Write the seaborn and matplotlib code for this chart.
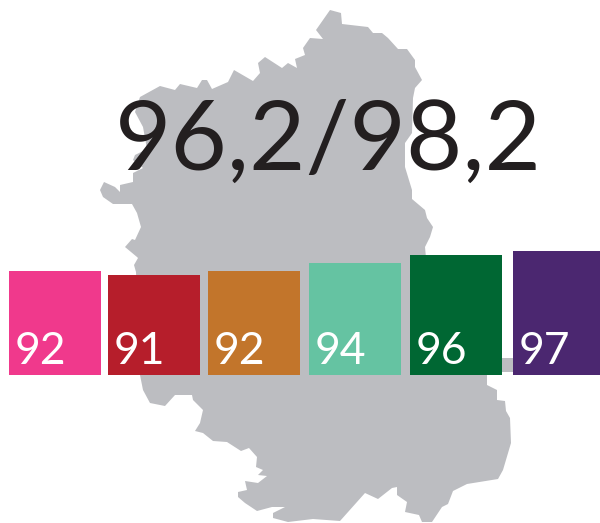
import matplotlib
matplotlib.use('Agg')
import matplotlib.pyplot as plt
import seaborn as sns
import pandas as pd

# valeurs
TITRE = "96,2/98,2"
GROUPES = ["a", "b", "c", "d", "e", "f"]
VALEURS = [92, 91, 92, 94, 96, 97]
COULEURS = ["#F0398C", "#B61E2B", "#C2752B", "#65C3A2", "#006733", "#4B2770"]

# centres des barres (pixels), l'ecart n'est pas tout a fait regulier
CENTRES = [55, 154, 254, 355, 456, 559]

# contour de la carte (pixels de l'image)
CARTE_X = [330, 341, 342, 368, 373, 382, 388, 398, 407, 415, 415, 422, 415, 413, 412, 405, 405,
           412, 412, 425, 427, 433, 430, 425, 430, 460, 501, 513, 513, 497, 487, 487, 497, 497,
           505, 506, 510, 511, 503, 498, 467, 453, 448, 442, 432, 422, 419, 405, 407, 397, 397,
           392, 378, 365, 340, 313, 288, 273, 273, 285, 272, 257, 245, 238, 238, 247, 245, 258,
           267, 258, 263, 256, 257, 249, 241, 227, 213, 203, 195, 200, 203, 193, 192, 175, 165,
           150, 143, 140, 136, 134, 138, 137, 125, 132, 135, 141, 137, 132, 113, 103, 100, 104,
           115, 120, 120, 133, 133, 143, 133, 135, 147, 143, 135, 140, 160, 175, 180, 197, 202,
           207, 212, 228, 234, 253, 260, 258, 265, 282, 288, 297, 295, 305, 303, 310, 323, 316]
CARTE_Y = [10, 13, 24, 27, 33, 33, 38, 49, 49, 60, 67, 80, 88, 98, 133, 143, 167,
           190, 199, 210, 218, 227, 237, 247, 300, 340, 358, 358, 372, 372, 375, 385, 390, 400,
           401, 411, 418, 443, 470, 479, 484, 491, 504, 507, 522, 522, 515, 512, 502, 495, 487,
           488, 499, 493, 521, 519, 522, 518, 513, 507, 507, 511, 503, 497, 492, 490, 481, 483,
           476, 475, 470, 467, 457, 448, 451, 442, 441, 433, 431, 423, 410, 400, 395, 395, 406,
           403, 390, 375, 272, 265, 258, 257, 247, 239, 240, 227, 213, 204, 204, 197, 190, 182,
           187, 192, 185, 182, 173, 168, 160, 155, 149, 127, 112, 97, 86, 90, 84, 88, 80,
           80, 89, 82, 70, 81, 73, 63, 57, 68, 63, 68, 59, 55, 48, 38, 39, 30]

plt.rcParams['font.family'] = ['Lato', 'DejaVu Sans']

fig = plt.figure(figsize=(6, 5.23), dpi=100, facecolor='white')

# fond : la carte grise
ax_carte = fig.add_axes([0, 0, 1, 1])
ax_carte.fill(CARTE_X, CARTE_Y, color='#BCBDC1', lw=0)
ax_carte.set_xlim(0, 600)
ax_carte.set_ylim(523, 0)
ax_carte.axis('off')

ax_carte.text(328.5, 170, TITRE, ha='center', va='baseline', fontsize=70, color='#231F20')

# barres : 4 px par point, base a 66
ax = fig.add_axes([0, 148 / 523, 1, 124 / 523])
ax.patch.set_alpha(0)
df = pd.DataFrame({'groupe': GROUPES, 'valeur': VALEURS, 'centre': CENTRES})
sns.barplot(data=df, x='centre', y='valeur', hue='groupe', palette=COULEURS, native_scale=True,
            dodge=False, width=92 / 99, legend=False, saturation=1, ax=ax)
ax.set_xlim(0, 600)
ax.set_ylim(66, 97)
ax.axis('off')

for c, v in zip(CENTRES, VALEURS):
    ax.text(c - 40, 68.7, str(v), ha='left', va='baseline', fontsize=32, color='white')

fig.savefig('out.png', dpi=100)
